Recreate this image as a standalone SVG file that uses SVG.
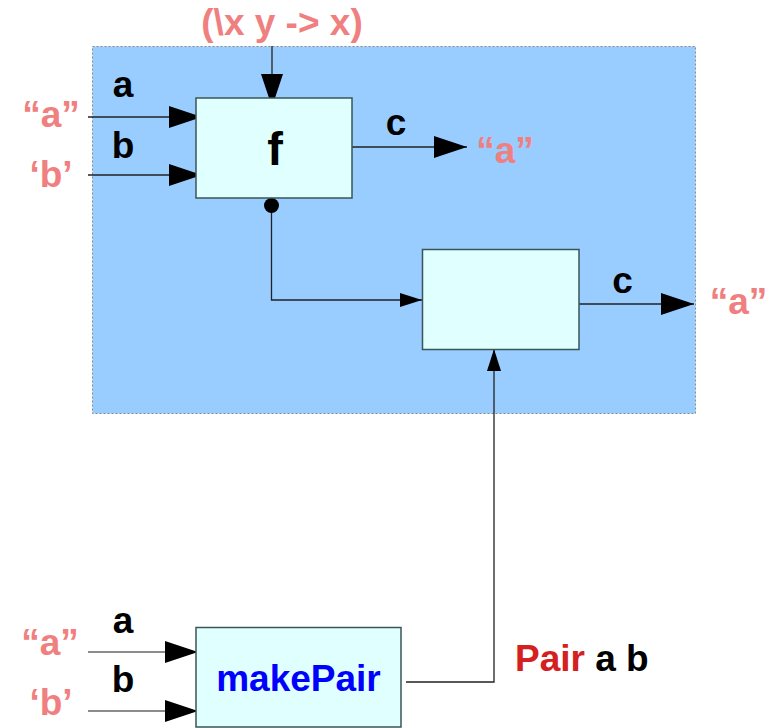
<svg xmlns="http://www.w3.org/2000/svg" width="769" height="728" viewBox="0 0 769 728">
<style>
.t{font-family:"Liberation Sans",Arial,sans-serif;font-weight:bold;font-size:37px}
.pk{fill:#f08080}
.bk{fill:#000}
.box{fill:#e0ffff;stroke:#3a5555;stroke-width:1.5}
.ln{stroke:#222;stroke-width:1.3;fill:none}
.lg{stroke:#666;stroke-width:1.5;fill:none}
</style>
<defs>
<marker id="big" viewBox="0 0 33 22" refX="33" refY="11" markerWidth="33" markerHeight="22" markerUnits="userSpaceOnUse" orient="auto">
<path d="M0,0 L33,11 L0,22 Z" fill="#000"/>
</marker>
<marker id="sm" viewBox="0 0 22 14" refX="22" refY="7" markerWidth="22" markerHeight="14" markerUnits="userSpaceOnUse" orient="auto">
<path d="M0,0 L22,7 L0,14 Z" fill="#000"/>
</marker>
</defs>
<g id="container">
<rect x="92.5" y="46.5" width="603" height="367" fill="#99ccff" stroke="#888" stroke-width="1" stroke-dasharray="2,2"/>
</g>
<g id="lambda-label">
<text class="t pk" x="282" y="35" text-anchor="middle">(\x y -&gt; x)</text>
</g>
<g id="connectors">
<line class="ln" x1="88" y1="117" x2="202" y2="117" marker-end="url(#big)"/>
<line class="ln" x1="88" y1="175" x2="202" y2="175" marker-end="url(#big)"/>
<line class="ln" x1="272" y1="46" x2="272" y2="107" marker-end="url(#big)"/>
<line class="ln" x1="352" y1="147" x2="467" y2="147" marker-end="url(#big)"/>
<polyline class="ln" points="271.5,206 271.5,300 422,300" marker-end="url(#sm)"/>
<line class="ln" x1="579" y1="304" x2="694" y2="304" marker-end="url(#big)"/>
<polyline class="ln" points="406,682 494,682 494,349" marker-end="url(#sm)"/>
<line class="lg" x1="88" y1="652" x2="198" y2="652" marker-end="url(#big)"/>
<line class="lg" x1="88" y1="711" x2="198" y2="711" marker-end="url(#big)"/>
<circle cx="271.5" cy="205.5" r="7.5" fill="#000"/>
</g>
<g id="node-f">
<rect class="box" x="196" y="98" width="156" height="100"/>
<text class="t bk" x="275" y="165" text-anchor="middle" style="font-size:47px">f</text>
</g>
<g id="node-2">
<rect class="box" x="422.5" y="249.5" width="156.5" height="100"/>
</g>
<g id="node-makePair">
<rect class="box" x="196" y="627.5" width="205" height="99.5"/>
<text class="t" x="298.5" y="691" text-anchor="middle" fill="#0000ff">makePair</text>
</g>
<g id="labels">
<text class="t bk" x="123" y="97" text-anchor="middle">a</text>
<text class="t pk" x="51" y="127" text-anchor="middle">“a”</text>
<text class="t bk" x="123" y="158" text-anchor="middle">b</text>
<text class="t pk" x="51" y="187" text-anchor="middle">‘b’</text>
<text class="t bk" x="396" y="135" text-anchor="middle">c</text>
<text class="t pk" x="505" y="163" text-anchor="middle">“a”</text>
<text class="t bk" x="622.5" y="293" text-anchor="middle">c</text>
<text class="t pk" x="738.5" y="314" text-anchor="middle">“a”</text>
<text class="t bk" x="123" y="633" text-anchor="middle">a</text>
<text class="t pk" x="50" y="655" text-anchor="middle">“a”</text>
<text class="t bk" x="123" y="692" text-anchor="middle">b</text>
<text class="t pk" x="51" y="715" text-anchor="middle">‘b’</text>
<text class="t" x="515" y="671"><tspan fill="#d42020">Pair</tspan><tspan fill="#000"> a b</tspan></text>
</g>
</svg>
